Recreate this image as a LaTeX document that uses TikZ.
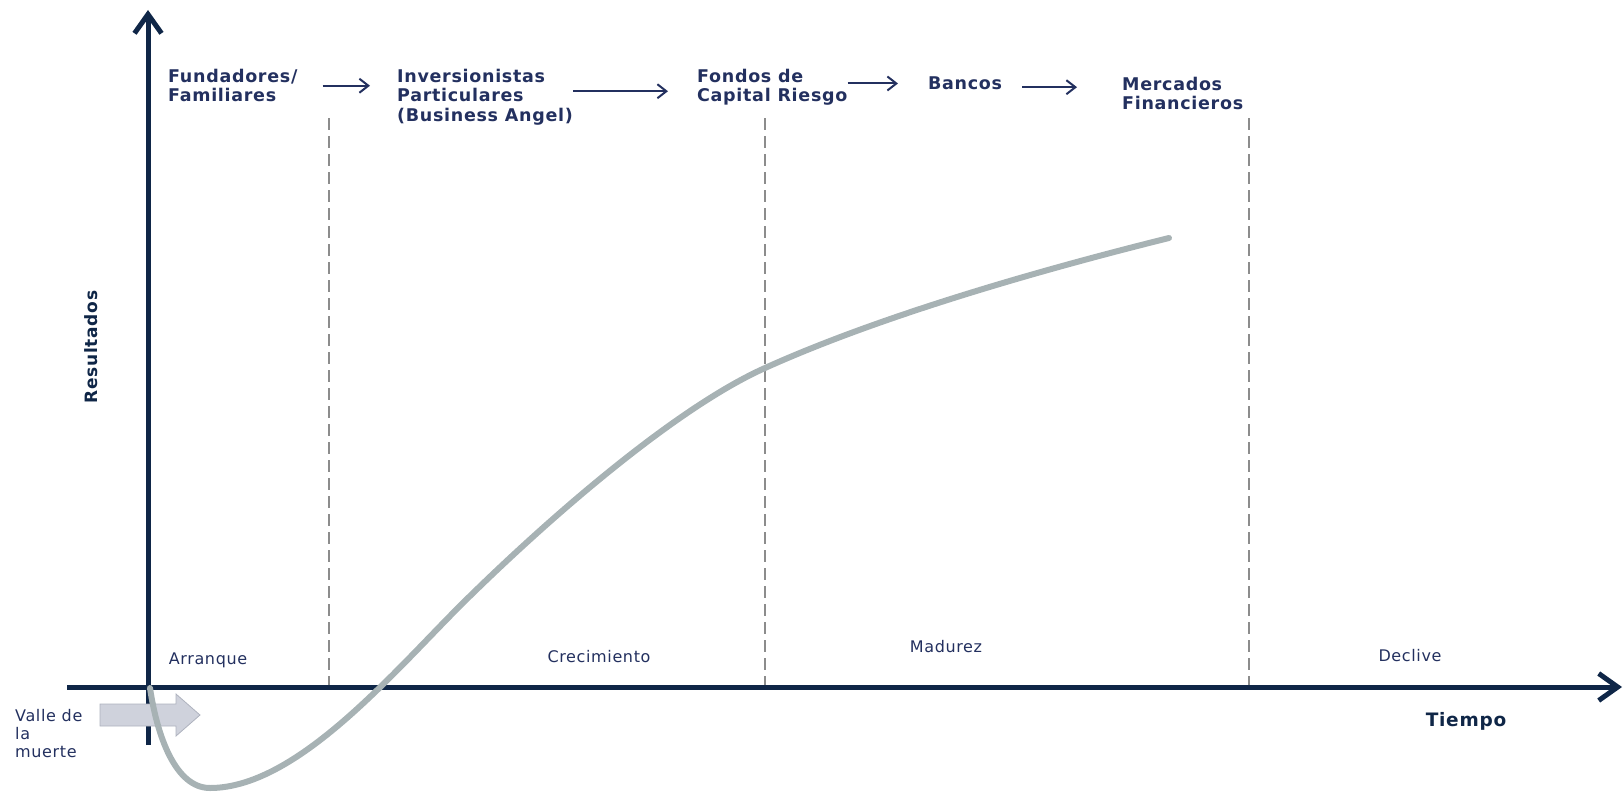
\documentclass[tikz,border=0pt]{standalone}
\usepackage{fontspec}
\setmainfont{DejaVu Sans}[LetterSpace=4]
\usetikzlibrary{arrows.meta}
\definecolor{navy}{HTML}{0F2647}
\definecolor{inkblue}{HTML}{23305F}
\definecolor{curvegray}{HTML}{A7B2B4}
\definecolor{arrowfill}{HTML}{CFD2DC}
\definecolor{arrowedge}{HTML}{AEB2BE}
\definecolor{dashgray}{HTML}{8C8C8C}

\begin{document}
\begin{tikzpicture}[x=1pt,y=-1pt,
    source/.style={anchor=north west, inner sep=0pt, align=left, text=inkblue, font=\bfseries\fontsize{17.5}{19.5}\selectfont},
    phase/.style={inner sep=0pt, text=inkblue, font=\fontsize{16}{18}\selectfont},
    axislabel/.style={inner sep=0pt, text=navy, font=\bfseries\fontsize{17}{19}\selectfont},
    flow/.style={draw=inkblue, line width=2pt, -{Straight Barb[length=9pt,width=14pt]}},
    axis/.style={draw=navy, line width=5pt, -{Straight Barb[length=19pt,width=27pt]}},
    stage/.style={draw=dashgray, line width=1.5pt, dash pattern=on 12pt off 6pt}]
    \useasboundingbox (0,0) rectangle (1624,792);

    \coordinate (ybottom) at (148,745);
    \coordinate (ytop) at (148,10);
    \coordinate (xleft) at (67,687);
    \coordinate (xright) at (1622,687);

    \draw[stage] (329,118) -- (329,687);
    \draw[stage] (765,118) -- (765,687);
    \draw[stage] (1249,118) -- (1249,687);

    \draw[axis] (ybottom) -- (ytop);
    \draw[axis] (xleft) -- (xright);

    \node[source] (fund) at (168,69) {Fundadores/\\Familiares};
    \node[source] (inv) at (397,69) {Inversionistas\\Particulares\\(Business Angel)};
    \node[source] (fondos) at (697,69) {Fondos de\\Capital Riesgo};
    \node[source] (bancos) at (928,77) {Bancos};
    \node[source] (mercados) at (1122,77) {Mercados\\Financieros};

    \draw[flow, shorten <=25pt, shorten >=27pt] (fund.east) -- (fund.east -| inv.west);
    \draw[flow, shorten >=29pt] ([yshift=6pt]inv.east) -- ([yshift=6pt]inv.east -| fondos.west);
    \draw[flow, shorten >=30pt] ([yshift=4pt]fondos.east) -- ([yshift=4pt]fondos.east -| bancos.west);
    \draw[flow, shorten <=20pt, shorten >=45pt] ([yshift=-3.5pt]bancos.east) -- ([yshift=-3.5pt]bancos.east -| mercados.west);

    \node[phase] (arranque) at (208,660) {Arranque};
    \node[phase] (crecimiento) at (599,657) {Crecimiento};
    \node[phase] (madurez) at (946,647) {Madurez};
    \node[phase] (declive) at (1410,656) {Declive};

    \node[axislabel, font=\bfseries\fontsize{18.5}{20}\selectfont] (tiempo) at (1466,721) {Tiempo};
    \node[axislabel, rotate=90] (resultados) at (91,347) {Resultados};

    \node[phase, anchor=north west, align=left] (valle) at (15,709) {Valle de\\la\\muerte};
    \draw[fill=arrowfill, draw=arrowedge, line width=0.8pt] (100,704) -- (176,704) -- (176,694) -- (200,715) -- (176,736) -- (176,726) -- (100,726) -- cycle;

    \draw[curvegray, line width=6pt, line cap=round] (150,688) .. controls (157,735) and (175,788) .. (210,788)
        .. controls (300,788) and (400,664) .. (470,596)
        .. controls (560,508) and (680,406) .. (765,368)
        .. controls (880,316) and (1040,270) .. (1169,238);
\end{tikzpicture}
\end{document}
